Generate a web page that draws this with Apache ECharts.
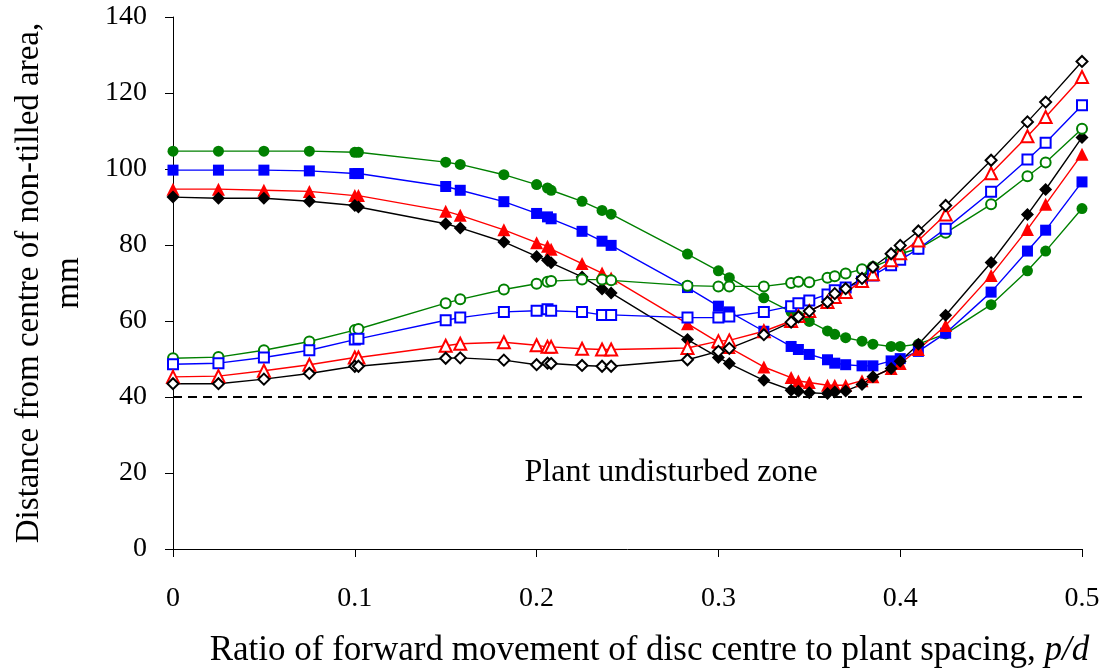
<!DOCTYPE html>
<html>
<head>
<meta charset="utf-8">
<script src="https://cdn.jsdelivr.net/npm/echarts@6/dist/echarts.min.js"></script>
<style>
  html, body { margin: 0; padding: 0; background: #fff; }
  #chart { width: 1104px; height: 668px; }
</style>
</head>
<body>
<div id="chart"></div>
<script>
// p/d ratio, shared by all curves
const ratios = [0, 0.025, 0.05, 0.075, 0.1, 0.102, 0.15, 0.158, 0.182, 0.2, 0.206, 0.208, 0.225, 0.236, 0.241,
  0.283, 0.3, 0.306, 0.325, 0.34, 0.344, 0.35, 0.36, 0.364, 0.37, 0.379, 0.385, 0.395, 0.4, 0.41, 0.425,
  0.45, 0.47, 0.48, 0.5];

// filled markers
const filledBlack = [92.6, 92.3, 92.3, 91.5, 90.4, 90.0, 85.6, 84.5, 80.8, 77.0, 76.0, 75.3, 71.6, 68.4, 67.4,
  55.1, 50.4, 48.8, 44.4, 41.8, 41.5, 41.1, 40.9, 41.3, 41.6, 43.3, 45.3, 47.5, 49.4, 53.9, 61.5,
  75.4, 88.0, 94.6, 108.3];
const filledRed = [94.7, 94.7, 94.4, 94.1, 93.0, 93.0, 88.9, 87.8, 84.0, 80.6, 79.7, 78.9, 75.1, 72.6, 71.3,
  59.3, 54.4, 53.0, 47.9, 45.1, 44.2, 43.8, 43.1, 43.1, 43.1, 44.3, 45.3, 47.5, 48.8, 52.5, 58.8,
  72.0, 84.1, 90.7, 103.9];
const filledBlue = [99.7, 99.7, 99.7, 99.5, 98.8, 98.8, 95.4, 94.4, 91.4, 88.3, 87.4, 86.9, 83.6, 81.0, 79.9,
  68.8, 63.9, 62.4, 57.3, 53.3, 52.5, 51.2, 49.8, 48.9, 48.5, 48.2, 48.2, 49.5, 50.1, 52.0, 56.8,
  67.6, 78.4, 83.9, 96.6];
const filledGreen = [104.7, 104.7, 104.7, 104.7, 104.4, 104.4, 101.8, 101.2, 98.5, 95.9, 95.0, 94.4, 91.5, 89.1, 88.1,
  77.6, 73.2, 71.4, 66.1, 62.4, 61.3, 59.9, 57.4, 56.5, 55.6, 54.7, 53.9, 53.3, 53.3, 53.9, 56.6,
  64.3, 73.2, 78.4, 89.6];

// open markers
const openBlack = [43.5, 43.5, 44.7, 46.2, 48.1, 48.1, 50.2, 50.3, 49.7, 48.5, 48.9, 48.8, 48.3, 48.1, 48.1,
  49.8, 52.0, 52.8, 56.4, 59.7, 61.1, 62.6, 65.0, 67.2, 68.5, 71.2, 74.2, 77.7, 79.9, 83.7, 90.4,
  102.3, 112.4, 117.6, 128.3];
const openRed = [45.3, 45.5, 46.9, 48.5, 50.4, 50.4, 53.5, 54.0, 54.4, 53.6, 53.2, 53.2, 52.7, 52.5, 52.5,
  52.9, 54.7, 54.9, 57.3, 60.0, 61.3, 62.6, 65.0, 66.3, 67.6, 70.5, 72.3, 76.0, 77.8, 81.2, 88.0,
  98.9, 108.6, 113.7, 124.2];
const openBlue = [48.6, 48.9, 50.4, 52.3, 55.1, 55.3, 60.2, 60.9, 62.4, 62.7, 63.1, 62.7, 62.4, 61.6, 61.6,
  60.9, 60.9, 61.2, 62.4, 63.9, 64.7, 65.4, 67.0, 68.1, 68.8, 70.3, 72.0, 74.7, 76.1, 79.0, 84.3,
  94.0, 102.5, 106.9, 116.8];
const openGreen = [50.2, 50.5, 52.3, 54.6, 57.6, 57.9, 64.7, 65.7, 68.3, 69.8, 70.3, 70.5, 70.9, 70.9, 70.7,
  69.3, 69.1, 69.1, 69.1, 70.0, 70.3, 70.2, 71.4, 71.8, 72.5, 73.6, 74.2, 76.2, 77.7, 79.0, 83.2,
  90.7, 98.1, 101.7, 110.6];

// plant undisturbed zone boundary and its label anchor
const zoneLimit = 40;
const zoneRange = [0, 0.5];
const zoneText = 'Plant undisturbed zone';
const zoneTextAt = [0.274, 20];

const FONT = 'Liberation Serif';

function pairs(ys) {
  return ratios.map((x, i) => [x, ys[i]]);
}

function curve(ys, color, symbol, size) {
  const empty = symbol.indexOf('empty') === 0;
  return {
    type: 'line',
    data: pairs(ys),
    symbol: symbol,
    symbolSize: size,
    showAllSymbol: true,
    animation: false,
    lineStyle: { color: color, width: 1.4 },
    itemStyle: { color: color, borderWidth: empty ? 1.5 : 0 },
    emphasis: { disabled: true }
  };
}

const chart = echarts.init(document.getElementById('chart'));

chart.setOption({
  backgroundColor: '#fff',
  animation: false,
  grid: { left: 173, right: 22, top: 17, bottom: 119, outerBoundsMode: 'none', containLabel: false },
  xAxis: {
    type: 'value',
    min: 0,
    max: 0.5,
    interval: 0.1,
    name: '{n|Ratio of forward movement of disc centre to plant spacing, }{i|p/d}',
    nameLocation: 'middle',
    nameGap: 84,
    nameTextStyle: {
      padding: [0, 0, 0, 44],
      rich: {
        n: { fontFamily: FONT, fontSize: 35, color: '#000' },
        i: { fontFamily: FONT, fontSize: 35, color: '#000', fontStyle: 'italic' }
      }
    },
    axisLine: { onZero: false, lineStyle: { color: '#000', width: 1 } },
    axisTick: { length: 8, lineStyle: { color: '#000' } },
    axisLabel: { fontFamily: FONT, fontSize: 28, color: '#000', margin: 36 },
    splitLine: { show: false }
  },
  yAxis: {
    type: 'value',
    min: 0,
    max: 140,
    interval: 20,
    name: 'Distance from centre of non-tilled area,\nmm',
    nameLocation: 'middle',
    nameRotate: 90,
    nameGap: 84,
    nameTextStyle: { fontFamily: FONT, fontSize: 33, color: '#000', lineHeight: 40 },
    axisLine: { show: true, lineStyle: { color: '#000', width: 1 } },
    axisTick: { show: true, length: 8, lineStyle: { color: '#000' } },
    axisLabel: { fontFamily: FONT, fontSize: 28, color: '#000', margin: 26 },
    splitLine: { show: false }
  },
  series: [
    curve(filledGreen, '#008000', 'circle', 11),
    curve(filledBlue, '#0000ff', 'rect', 11),
    curve(filledRed, '#ff0000', 'triangle', 13),
    curve(filledBlack, '#000000', 'diamond', 13),
    curve(openGreen, '#008000', 'emptyCircle', 10),
    curve(openBlue, '#0000ff', 'emptyRect', 10),
    curve(openRed, '#ff0000', 'emptyTriangle', 12),
    curve(openBlack, '#000000', 'emptyDiamond', 11),
    {
      type: 'line',
      data: zoneRange.map(x => [x, zoneLimit]),
      symbol: 'none',
      animation: false,
      lineStyle: { color: '#000', width: 2, type: [9, 6] },
      emphasis: { disabled: true },
      z: 1
    },
    {
      type: 'scatter',
      data: [zoneTextAt],
      symbolSize: 0,
      animation: false,
      label: {
        show: true,
        position: 'inside',
        formatter: zoneText,
        fontFamily: FONT,
        fontSize: 32,
        color: '#000',
        textBorderWidth: 0,
        opacity: 1
      },
      emphasis: { disabled: true }
    }
  ]
});
</script>
</body>
</html>
